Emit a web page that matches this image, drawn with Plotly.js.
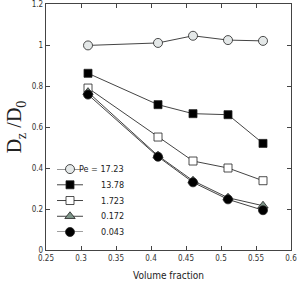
<!DOCTYPE html>
<html><head><meta charset="utf-8">
<script src="https://cdn.plot.ly/plotly-3.0.1.min.js"></script>
<style>html,body{margin:0;padding:0;background:#fff}#chart{width:297px;height:283px}</style>
</head><body><div id="chart"></div>
<script>
const volumeFraction = [0.31, 0.41, 0.46, 0.51, 0.56];
const pe17_23 = [0.998, 1.01, 1.045, 1.024, 1.02];
const pe13_78 = [0.862, 0.709, 0.665, 0.66, 0.52];
const pe1_723 = [0.79, 0.551, 0.434, 0.40, 0.338];
const pe0_172 = [0.77, 0.46, 0.338, 0.255, 0.216];
const pe0_043 = [0.758, 0.455, 0.33, 0.247, 0.194];
const seriesNames = ['Pe = 17.23', '13.78', '1.723', '0.172', '0.043'];
const xTicks = [0.25, 0.3, 0.35, 0.4, 0.45, 0.5, 0.55, 0.6];
const yTicks = [0, 0.2, 0.4, 0.6, 0.8, 1, 1.2];

const styles = [
  {symbol:'circle', color:'#e4e8e8', size:9},
  {symbol:'square', color:'#000000', size:8},
  {symbol:'square', color:'#ffffff', size:8},
  {symbol:'triangle-up', color:'#7d9488', size:9},
  {symbol:'circle', color:'#000000', size:9}
];
const series = [pe17_23, pe13_78, pe1_723, pe0_172, pe0_043];
const traces = [];
series.forEach((y,i)=>{
  traces.push({
    x: volumeFraction, y: y, name: seriesNames[i], type:'scatter', mode:'lines+markers',
    line:{color:'#444', width:1},
    marker:{symbol:styles[i].symbol, size:styles[i].size, color:styles[i].color, line:{color:'#222', width:0.8}}
  });
});
// custom legend (on a secondary axis pair)
series.forEach((y,i)=>{
  traces.push({x:[0,1], y:[i,i], xaxis:'x2', yaxis:'y2', mode:'lines', line:{color:'#444', width:1}, hoverinfo:'skip', showlegend:false, cliponaxis:false});
  traces.push({x:[0.5], y:[i], xaxis:'x2', yaxis:'y2', mode:'markers', hoverinfo:'skip', showlegend:false, cliponaxis:false,
    marker:{symbol:styles[i].symbol, size:styles[i].size, color:styles[i].color, line:{color:'#222', width:0.8}}});
});
const font = 'DejaVu Sans Condensed, Liberation Sans Narrow, Liberation Sans, sans-serif';
const annotations = seriesNames.map((n,i)=>({
  text:n, xref:'paper', yref:'y2', x:0.3265, y:i, xanchor:'right', yanchor:'middle', showarrow:false,
  font:{family:font, size:9, color:'#222'}
}));
const layout = {
  width:297, height:283,
  margin:{l:46, r:6, t:4, b:33},
  paper_bgcolor:'#fff', plot_bgcolor:'#fff',
  showlegend:false,
  annotations: annotations,
  xaxis:{range:[0.25,0.6], tickvals:xTicks, ticktext:xTicks.map(String), ticks:'inside', ticklen:4,
    showline:true, linecolor:'#444', linewidth:1.2, mirror:'ticks', showgrid:false, zeroline:false,
    ticklabeloverflow:'allow',
    tickfont:{family:font, size:8, color:'#333'},
    title:{text:'Volume fraction', font:{family:font, size:10, color:'#222'}, standoff:10}},
  yaxis:{range:[0,1.2], tickvals:yTicks, ticktext:yTicks.map(String), ticks:'inside', ticklen:4,
    showline:true, linecolor:'#444', linewidth:1.2, mirror:'ticks', showgrid:false, zeroline:false,
    ticklabeloverflow:'allow',
    tickfont:{family:font, size:8, color:'#333'},
    title:{text:'D<sub>z</sub> /D<sub>0</sub>', font:{family:'Liberation Serif, DejaVu Serif, serif', size:20, color:'#222'}, standoff:4}},
  xaxis2:{domain:[0.0449,0.151], range:[0,1], visible:false, anchor:'y2', fixedrange:true},
  yaxis2:{domain:[0.0732,0.329], range:[4,0], visible:false, anchor:'x2', fixedrange:true}
};
Plotly.newPlot('chart', traces, layout, {displayModeBar:false, staticPlot:true});
</script></body></html>
